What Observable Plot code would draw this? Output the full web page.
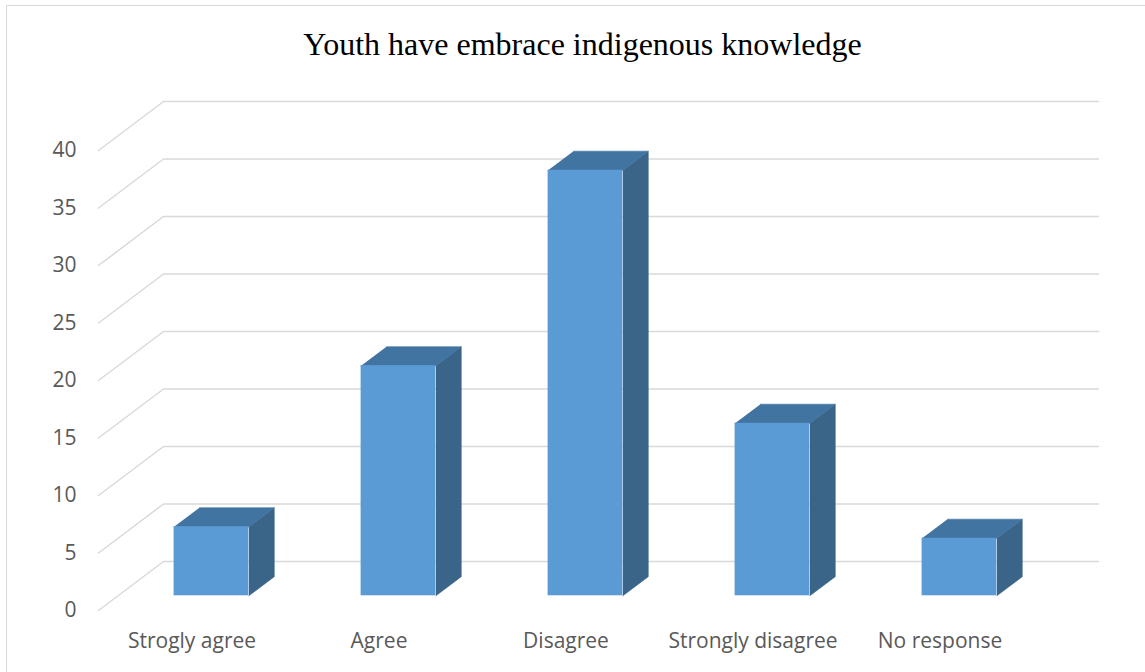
<!DOCTYPE html>
<html>
<head>
<meta charset="utf-8">
<script src="https://cdn.jsdelivr.net/npm/d3@7"></script>
<script src="https://cdn.jsdelivr.net/npm/@observablehq/plot@0.6"></script>
<style>
  html, body { margin: 0; padding: 0; background: #fff; overflow: hidden; }
  #frame { position: relative; width: 1145px; height: 672px; overflow: hidden; }
  #border { position: absolute; left: 6px; top: 5px; width: 1170px; height: 700px;
            border: 1.5px solid #D9D9D9; box-sizing: border-box; }
  #title { position: relative; height: 80px; box-sizing: border-box; padding-top: 28px;
           text-align: center; font-family: "Liberation Serif", "Times New Roman", serif;
           font-size: 32px; line-height: 32px; color: #000; padding-left: 20px; }
  #chart svg { display: block; }
</style>
</head>
<body>
<div id="frame">
  <div id="border"></div>
  <div id="title">Youth have embrace indigenous knowledge</div>
  <div id="chart"></div>
</div>
<script>
// Survey responses
const categories = ["Strogly agree", "Agree", "Disagree", "Strongly disagree", "No response"];
const values = [6, 20, 37, 15, 5];
const yTicks = [0, 5, 10, 15, 20, 25, 30, 35, 40];

// Oblique 3D projection: depth of the chart box expressed in scale units
const DX = 65 / 187;   // horizontal shift of the back wall (x units)
const DY = 49 / 11.5;  // vertical shift of the back wall (y units)
const BAR_Z0 = 0.30, BAR_Z1 = 0.69; // bar front / back depth (0 = front, 1 = back wall)
const HALF = 0.2;                    // half width of a bar (x units)

const proj = (x, y, z) => ({x: x + z * DX, y: y + z * DY});

// Side wall diagonals + back wall gridlines
const gridRows = yTicks.flatMap(t => [
  {tick: t, ...proj(0, t, 0)},
  {tick: t, ...proj(0, t, 1)},
  {tick: t, ...proj(categories.length, t, 1)}
]);

const bars = categories.map((c, i) => ({cat: c, c: i + 0.5, v: values[i]}));

const frontRows = bars.map(b => ({
  cat: b.cat,
  x1: b.c - HALF + BAR_Z0 * DX, x2: b.c + HALF + BAR_Z0 * DX,
  y1: BAR_Z0 * DY, y2: b.v + BAR_Z0 * DY
}));

const sideRows = bars.flatMap(b => [
  proj(b.c + HALF, 0, BAR_Z0), proj(b.c + HALF, 0, BAR_Z1),
  proj(b.c + HALF, b.v, BAR_Z1), proj(b.c + HALF, b.v, BAR_Z0)
].map(p => ({cat: b.cat, ...p})));

const topRows = bars.flatMap(b => [
  proj(b.c - HALF, b.v, BAR_Z0), proj(b.c + HALF, b.v, BAR_Z0),
  proj(b.c + HALF, b.v, BAR_Z1), proj(b.c - HALF, b.v, BAR_Z1)
].map(p => ({cat: b.cat, ...p})));

const FRONT = "#5B9BD5", TOP = "#4274A2", SIDE = "#3A6488";

const chart = Plot.plot({
  width: 1145,
  height: 592,
  marginLeft: 98,
  marginRight: 47,
  marginTop: 21,
  marginBottom: 62,
  x: {domain: [0, categories.length + DX], axis: null},
  y: {domain: [0, 40 + DY]},
  style: {fontFamily: "'Open Sans', sans-serif", color: "#595959", background: "transparent"},
  marks: [
    Plot.line(gridRows, {x: "x", y: "y", z: "tick", stroke: "#D9D9D9", strokeWidth: 1.5}),
    Plot.axisY(yTicks, {tickSize: 0, tickPadding: 22, fontSize: 21, label: null}),
    Plot.text(categories, {x: (d, i) => i + 0.5, y: () => 0, dy: 31, fontSize: 21, text: d => d}),
    Plot.line(sideRows, {x: "x", y: "y", z: "cat", fill: SIDE, stroke: SIDE, strokeWidth: 0.6}),
    Plot.line(topRows, {x: "x", y: "y", z: "cat", fill: TOP, stroke: TOP, strokeWidth: 0.6}),
    Plot.rect(frontRows, {x1: "x1", x2: "x2", y1: "y1", y2: "y2", fill: FRONT})
  ]
});

document.getElementById("chart").appendChild(chart);
</script>
</body>
</html>
